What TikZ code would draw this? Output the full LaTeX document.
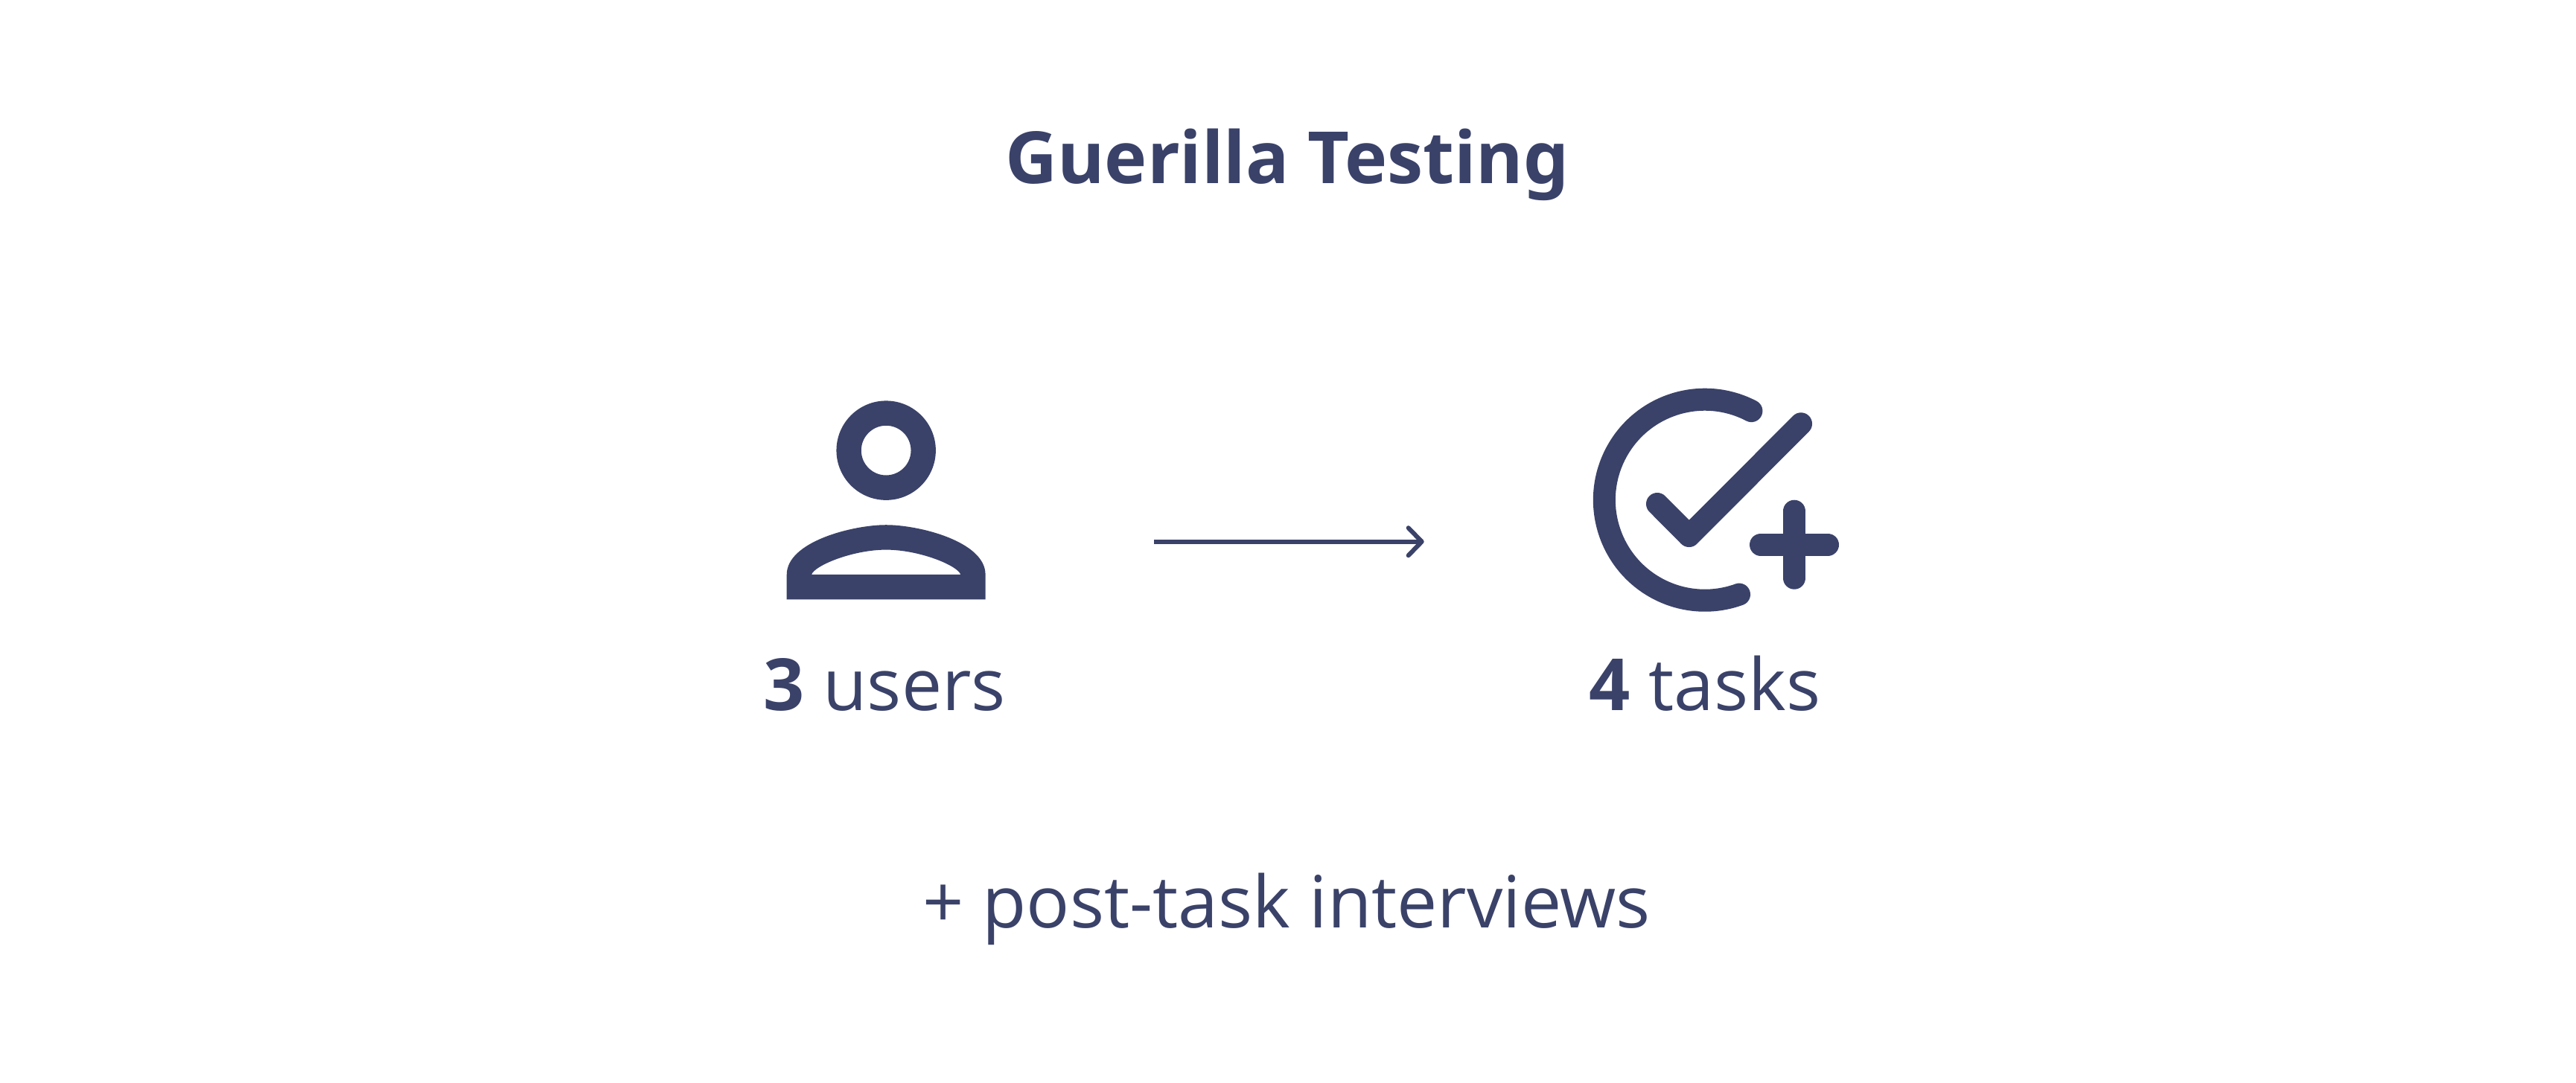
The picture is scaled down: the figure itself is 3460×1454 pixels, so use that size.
\documentclass[tikz,border=0pt]{standalone}
\usepackage{fontspec}
\setmainfont{Open Sans}
\usepackage{tikz}
\usetikzlibrary{arrows.meta,positioning}
\definecolor{navy}{HTML}{3A4269}
\tikzset{
    every picture/.style={line cap=round,line join=round},
    textlabel/.style={text=navy,inner sep=0pt,anchor=base,font=\fontsize{27.5}{33}\selectfont},
    iconline/.style={draw=navy,line width=0.30cm},
    iconfill/.style={fill=navy,even odd rule},
    flowarrow/.style={-{Straight Barb[length=1.8mm,width=3.7mm,round]},draw=navy,line width=0.06cm,line cap=butt}
}
\begin{document}
\begin{tikzpicture}[x=0.01cm,y=-0.01cm]
    \useasboundingbox (0,0) rectangle (3460,1454);
    \node[textlabel] (title) at (1729,246) {\bfseries\addfontfeatures{RawFeature=+salt}Guerilla Testing};
    \node[textlabel] (users) at (1188,954) {{\bfseries 3} users};
    \node[textlabel] (tasks) at (2290,954) {{\bfseries 4} tasks};
    \node[textlabel] (note) at (1728,1246) {+ post-task interviews};
    \begin{scope}[shift={(990,471.7)},x=0.1667cm,y=-0.1667cm]
        \fill[iconfill] (12,8) circle[radius=4] (12,8) circle[radius=2];
        \fill[iconfill] (12,14) .. controls (9.33,14) and (4,15.34) .. (4,18) -- (4,20) -- (20,20) -- (20,18)
            .. controls (20,15.34) and (14.67,14) .. (12,14) -- cycle
            (6,18) .. controls (6.22,17.28) and (9.31,16) .. (12,16)
            .. controls (14.7,16) and (17.8,17.29) .. (18,18) -- cycle;
    \end{scope}
    \draw[iconline] (2352.4,552.1) arc[start angle=-62.4,end angle=-290,radius=135];
    \draw[iconline] (2226,677)--(2268.7,720)--(2419,569.3);
    \draw[iconline] (2365,731.7)--(2455,731.7);
    \draw[iconline] (2410,686.7)--(2410,776.7);
    \coordinate (arrowstart) at (1550,727.7);
    \coordinate (arrowend) at (1912.7,727.7);
    \draw[flowarrow] (arrowstart)--(arrowend);
\end{tikzpicture}
\end{document}
